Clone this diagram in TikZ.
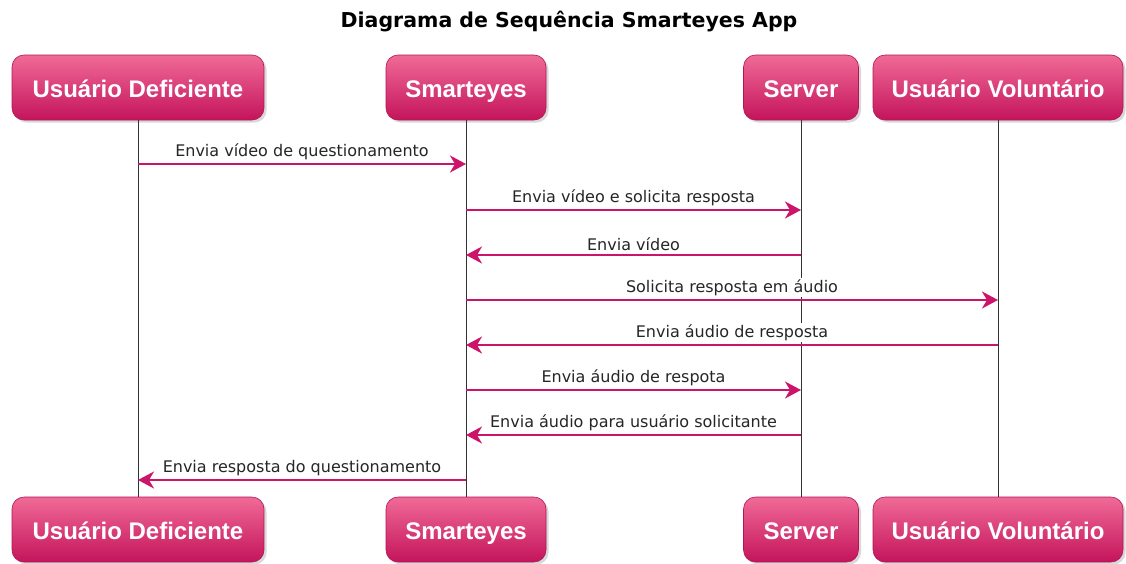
\documentclass[tikz,border=0pt]{standalone}
\usepackage{fontspec}
\setmainfont{DejaVu Sans}
\newfontfamily\boxfont{Liberation Sans}
\usetikzlibrary{shadows,arrows.meta}
\definecolor{pinktop}{RGB}{240,106,150}
\definecolor{pinkbot}{RGB}{196,20,92}
\definecolor{pinkedge}{RGB}{180,20,85}
\definecolor{pinkline}{RGB}{204,20,106}
\definecolor{lifegray}{RGB}{50,50,50}
\begin{document}
\begin{tikzpicture}[x=1pt,y=-1pt,
  actor/.style={rounded corners=12pt, top color=pinktop, bottom color=pinkbot,
    draw=pinkedge, line width=0.6pt, text=white,
    font=\boxfont\bfseries\fontsize{24}{28}\selectfont,
    text height=19pt, text depth=0pt,
    drop shadow={shadow xshift=2.5pt,shadow yshift=-2.5pt,opacity=0.3},
    inner sep=0pt, minimum height=65pt},
  lifeline/.style={draw=lifegray, line width=1pt},
  msg/.style={draw=pinkline, line width=2pt, -{Stealth[length=16pt,width=17pt,inset=5pt]}},
  lbl/.style={font=\fontsize{16}{19}\selectfont, fill=white, inner sep=1pt, text=black!85},
  titlestyle/.style={font=\bfseries\fontsize{20.5}{24}\selectfont, text=black}]
\useasboundingbox[fill=white] (0,0) rectangle (1126,563);
\node[titlestyle] (title) at (569,22) {Diagrama de Sequência Smarteyes App};
% top actors
\node[actor, minimum width=252pt] (ud) at (138,87.5) {Usuário Deficiente};
\node[actor, minimum width=160pt] (sm) at (466,87.5) {Smarteyes};
\node[actor, minimum width=115pt] (sv) at (801,87.5) {Server};
\node[actor, minimum width=250pt] (uv) at (998,87.5) {Usuário Voluntário};
% bottom actors
\node[actor, minimum width=252pt] (udb) at (138,529.5) {Usuário Deficiente};
\node[actor, minimum width=160pt] (smb) at (466,529.5) {Smarteyes};
\node[actor, minimum width=115pt] (svb) at (801,529.5) {Server};
\node[actor, minimum width=250pt] (uvb) at (998,529.5) {Usuário Voluntário};
% lifelines
\draw[lifeline] (ud.south) -- (udb.north);
\draw[lifeline] (sm.south) -- (smb.north);
\draw[lifeline] (sv.south) -- (svb.north);
\draw[lifeline] (uv.south) -- (uvb.north);
% message points
\coordinate (a1) at (ud |- 0,164); \coordinate (b1) at (sm |- 0,164);
\coordinate (a2) at (sm |- 0,210); \coordinate (b2) at (sv |- 0,210);
\coordinate (a3) at (sv |- 0,255); \coordinate (b3) at (sm |- 0,255);
\coordinate (a4) at (sm |- 0,300); \coordinate (b4) at (uv |- 0,300);
\coordinate (a5) at (uv |- 0,345); \coordinate (b5) at (sm |- 0,345);
\coordinate (a6) at (sm |- 0,390); \coordinate (b6) at (sv |- 0,390);
\coordinate (a7) at (sv |- 0,435); \coordinate (b7) at (sm |- 0,435);
\coordinate (a8) at (sm |- 0,480); \coordinate (b8) at (ud |- 0,480);
% messages
\draw[msg] (a1) -- node[lbl, above=2.5pt] (l1) {Envia vídeo de questionamento} (b1);
\draw[msg] (a2) -- node[lbl, above=2.5pt] (l2) {Envia vídeo e solicita resposta} (b2);
\draw[msg] (a3) -- node[lbl, above=2.5pt] (l3) {Envia vídeo} (b3);
\draw[msg] (a4) -- node[lbl, above=2.5pt] (l4) {Solicita resposta em áudio} (b4);
\draw[msg] (a5) -- node[lbl, above=2.5pt] (l5) {Envia áudio de resposta} (b5);
\draw[msg] (a6) -- node[lbl, above=2.5pt] (l6) {Envia áudio de respota} (b6);
\draw[msg] (a7) -- node[lbl, above=2.5pt] (l7) {Envia áudio para usuário solicitante} (b7);
\draw[msg] (a8) -- node[lbl, above=2.5pt] (l8) {Envia resposta do questionamento} (b8);
\end{tikzpicture}
\end{document}
